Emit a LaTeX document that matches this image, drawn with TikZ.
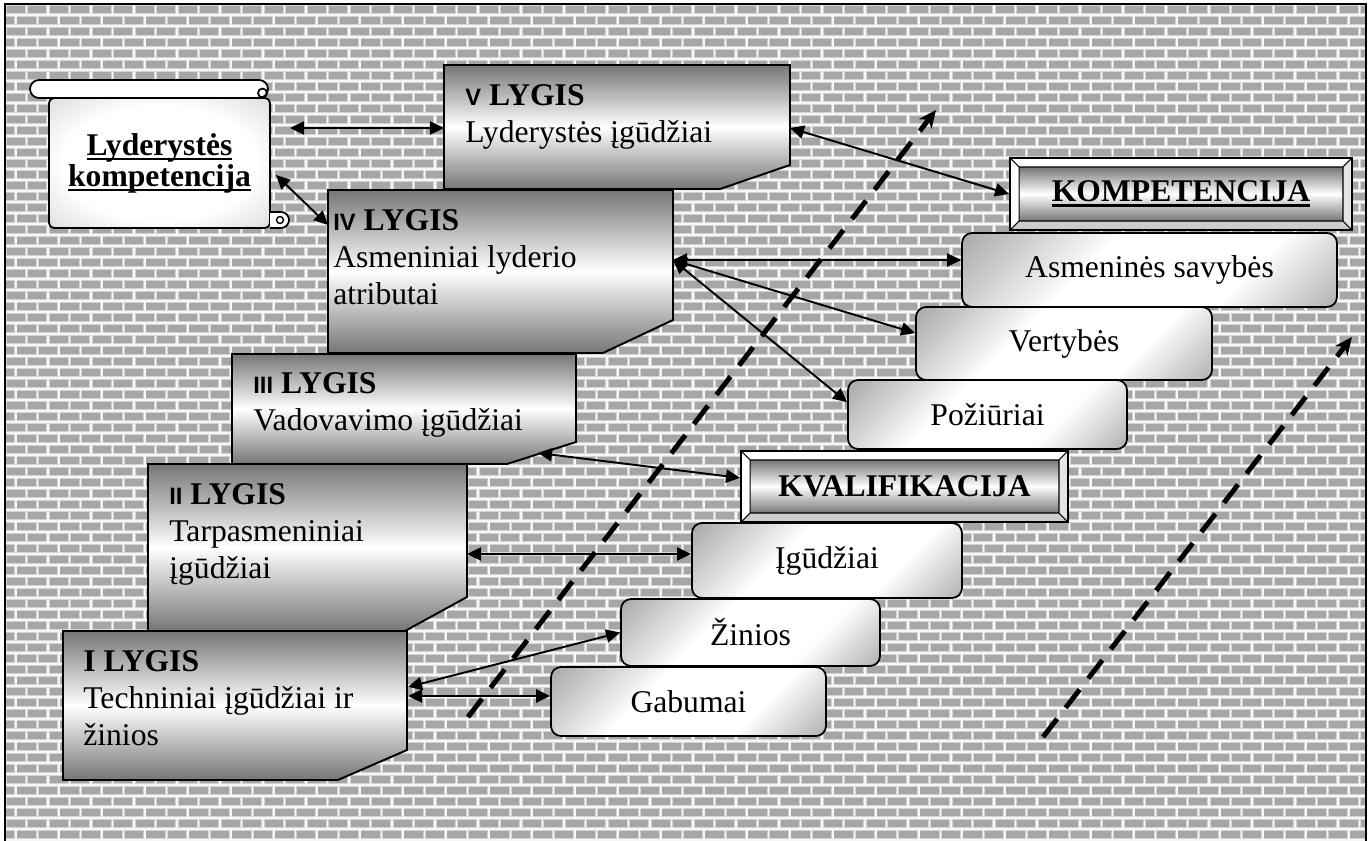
\documentclass[tikz,border=0pt]{standalone}
\usepackage{fontspec}
\setmainfont{Liberation Serif}
\newfontfamily\numfont{Liberation Sans}
\usetikzlibrary{arrows.meta}

\definecolor{brick}{RGB}{166,166,166}
\definecolor{mortar}{RGB}{246,246,246}
\definecolor{mortaredge}{RGB}{212,212,212}
\definecolor{shadegray}{RGB}{118,118,118}
\definecolor{scrollgray}{RGB}{185,185,185}

\pgfdeclareverticalshading{itemshade}{100bp}{color(0bp)=(shadegray); color(34bp)=(white); color(60bp)=(white); color(100bp)=(shadegray)}
\pgfdeclareradialshading{scrollshade}{\pgfpoint{0bp}{0bp}}{color(0bp)=(white); color(22bp)=(white); color(50bp)=(scrollgray); color(100bp)=(scrollgray)}

\newsavebox\ulbox
\newcommand\wordul[1]{\sbox\ulbox{#1}\rlap{\rule[-0.1cm]{\wd\ulbox}{0.05cm}}\usebox\ulbox}
\newcommand\numl[1]{{\numfont\bfseries\fontsize{13.5}{15}\selectfont #1}}

\tikzset{
  lygis/.style={draw, line width=1.1pt, top color=shadegray, bottom color=shadegray, middle color=white},
  lygtxt/.style={anchor=north west, inner sep=0, align=left},
  item/.style={draw, line width=1pt, rounded corners=0.2cm, inner sep=0, shading=itemshade, shading angle=45},
  bevel/.style={draw, line width=1.1pt, fill=white, inner sep=0, font=\bfseries\fontsize{18}{21}\selectfont,
    path picture={
      \coordinate (o1) at (path picture bounding box.north west);
      \coordinate (o2) at (path picture bounding box.north east);
      \coordinate (o3) at (path picture bounding box.south east);
      \coordinate (o4) at (path picture bounding box.south west);
      \coordinate (i1) at ([shift={(0.18cm,-0.18cm)}]o1);
      \coordinate (i2) at ([shift={(-0.18cm,-0.18cm)}]o2);
      \coordinate (i3) at ([shift={(-0.18cm,0.18cm)}]o3);
      \coordinate (i4) at ([shift={(0.18cm,0.18cm)}]o4);
      \fill[gray!40] (o4) -- (o3) -- (i3) -- (i4) -- cycle;
      \fill[gray!20] (o3) -- (o2) -- (i2) -- (i3) -- cycle;
      \shade[top color=shadegray, bottom color=shadegray, middle color=white] (i1) rectangle (i3);
      \draw[line width=0.6pt] (i1) rectangle (i3) (o1) -- (i1) (o2) -- (i2) (o3) -- (i3) (o4) -- (i4);
    }},
  scrollbody/.style={draw, line width=1pt, rounded corners=0.1cm, shading=scrollshade,
    align=center, font=\bfseries\fontsize{18}{17.6}\selectfont},
  link/.style={line width=1.1pt, {Triangle[length=8pt,width=7.5pt]}-{Triangle[length=8pt,width=7.5pt]}},
  rise/.style={line width=2.8pt, dash pattern=on 0.46cm off 0.28cm, -{Stealth[length=10pt,width=9pt,inset=3pt]}}
}

\begin{document}
\begin{tikzpicture}[x=0.02cm, y=-0.02cm, font=\fontsize{18}{21}\selectfont]
\useasboundingbox (0,0) rectangle (1372,841);
\fill[white] (0,0) rectangle (1372,841);

\begin{scope}
  \clip (5,4) rectangle (1366,841);
  \fill[brick] (5,4) rectangle (1366,841);
  \foreach \c in {0,...,64} {
    \draw[mortaredge, line width=0.064cm, dash pattern=on 0.22cm off 0.22cm] ({5+21.5*\c},4) -- ({5+21.5*\c},848);
    \draw[mortaredge, line width=0.064cm, dash pattern=on 0.22cm off 0.22cm, dash phase=0.22cm] ({15.75+21.5*\c},4) -- ({15.75+21.5*\c},848);
  }
  \foreach \r in {0,...,77}
    \draw[mortaredge, line width=0.064cm] (0,{4+11*\r}) -- (1372,{4+11*\r});
  \foreach \c in {0,...,64} {
    \draw[mortar, line width=0.03cm, dash pattern=on 0.22cm off 0.22cm] ({5+21.5*\c},4) -- ({5+21.5*\c},848);
    \draw[mortar, line width=0.03cm, dash pattern=on 0.22cm off 0.22cm, dash phase=0.22cm] ({15.75+21.5*\c},4) -- ({15.75+21.5*\c},848);
  }
  \foreach \r in {0,...,77}
    \draw[mortar, line width=0.03cm] (0,{4+11*\r}) -- (1372,{4+11*\r});
\end{scope}
\draw[line width=1.2pt] (5,4) rectangle (1366,848);

\coordinate (d1s) at (468,717);
\coordinate (d1e) at (936,110);
\coordinate (d2s) at (1043,737);
\coordinate (d2e) at (1352,337);
\draw[rise] (d1s) -- (d1e);
\draw[rise] (d2s) -- (d2e);

\node[scrollbody, minimum width=4.42cm, minimum height=2.6cm] (scroll) at (159.5,163) {\wordul{Lyderystės}\\\wordul{kompetencija}};
\draw[line width=1pt, fill=white, rounded corners=0.18cm] (30,80) rectangle (268,98);
\draw[line width=1pt] (262.5,93) circle[radius=4.5];
\draw[line width=1pt, fill=white] (270,212) -- (281,212) arc[start angle=-90, end angle=90, radius=8] -- (270,228);
\draw[line width=0.8pt] (280,220) circle[radius=3.5];

\shade[lygis] (444,65) -- (790,65) -- (790,165) -- (720,189) -- (444,189) -- cycle;
\shade[lygis] (328,190) -- (673,190) -- (673,320) -- (603,353) -- (328,353) -- cycle;
\shade[lygis] (232,354) -- (576,354) -- (576,442) -- (507,464) -- (232,464) -- cycle;
\shade[lygis] (148,464) -- (467,464) -- (467,597) -- (405,631) -- (148,631) -- cycle;
\shade[lygis] (63,631) -- (407,631) -- (407,750) -- (338,780) -- (63,780) -- cycle;

\node[lygtxt] (t5) at (465,84.5) {\numl{V} \textbf{LYGIS}\\Lyderystės įgūdžiai};
\node[lygtxt] (t4) at (333,209.5) {\numl{IV} \textbf{LYGIS}\\Asmeniniai lyderio\\atributai};
\node[lygtxt] (t3) at (253,372.5) {\numl{III} \textbf{LYGIS}\\Vadovavimo įgūdžiai};
\node[lygtxt] (t2) at (169,483.5) {\numl{II} \textbf{LYGIS}\\Tarpasmeniniai\\įgūdžiai};
\node[lygtxt] (t1) at (83,650.5) {\textbf{I LYGIS}\\Techniniai įgūdžiai ir\\žinios};

\node[bevel, minimum width=6.84cm, minimum height=1.44cm] (komp) at (1181,194) {\wordul{KOMPETENCIJA}};
\node[item, minimum width=7.5cm, minimum height=1.48cm] (savyb) at (1149.5,270) {Asmeninės savybės};
\node[item, minimum width=5.92cm, minimum height=1.46cm] (vert) at (1064,343.5) {Vertybės};
\node[item, minimum width=5.58cm, minimum height=1.38cm] (poz) at (987.5,414.5) {Požiūriai};
\node[bevel, minimum width=6.54cm, minimum height=1.42cm] (kval) at (904.5,486.5) {KVALIFIKACIJA};
\node[item, minimum width=5.4cm, minimum height=1.5cm] (igud) at (827,560.5) {Įgūdžiai};
\node[item, minimum width=5.18cm, minimum height=1.34cm] (zin) at (750.5,632.5) {Žinios};
\node[item, minimum width=5.5cm, minimum height=1.38cm] (gab) at (688.5,701.5) {Gabumai};

\coordinate (s5) at (290,128);
\coordinate (v5w) at (444,128);
\coordinate (v5e) at (790,128);
\coordinate (s4) at (276,175);
\coordinate (v4w) at (328,225);
\coordinate (v4e) at (673,260);
\coordinate (v3c) at (538,453);
\coordinate (v2e) at (467,554);
\coordinate (v1a) at (408,687);
\coordinate (v1b) at (408,696);

\draw[link] (s5) -- (v5w);
\draw[link] (s4) -- (v4w);
\draw[link] (v5e) -- (komp.west);
\draw[link] (v4e) -- (v4e -| savyb.west);
\draw[link] (v4e) -- (vert.176);
\draw[link] (v4e) -- (poz.175);
\draw[link] (v3c) -- (kval.177);
\draw[link] (v2e) -- (v2e -| igud.west);
\draw[link] (v1a) -- (zin.west);
\draw[link] (v1b) -- (v1b -| gab.west);
\end{tikzpicture}
\end{document}
